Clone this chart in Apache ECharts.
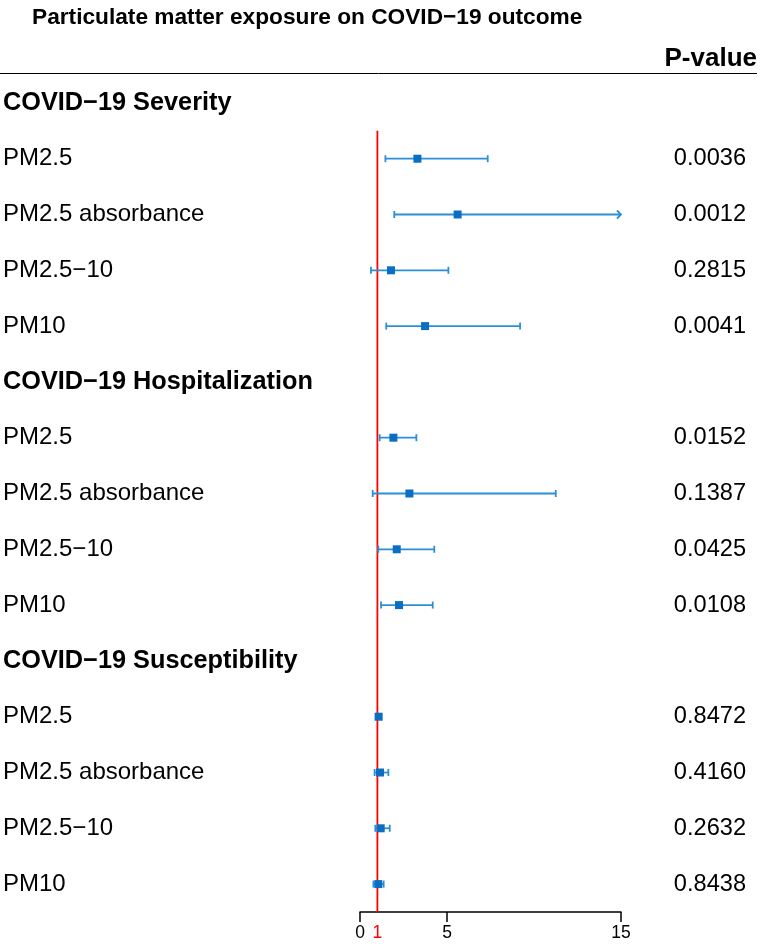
<!DOCTYPE html>
<html>
<head>
<meta charset="utf-8">
<script src="https://cdn.jsdelivr.net/npm/echarts@6/dist/echarts.min.js"></script>
<style>
  html, body { margin: 0; padding: 0; background: #fff; }
  #chart { width: 762px; height: 945px; }
</style>
</head>
<body>
<div id="chart"></div>
<script>
// rows top to bottom, headers are the group titles
const rowLabels = [
  'COVID\u221219 Severity', 'PM2.5', 'PM2.5 absorbance', 'PM2.5\u221210', 'PM10',
  'COVID\u221219 Hospitalization', 'PM2.5', 'PM2.5 absorbance', 'PM2.5\u221210', 'PM10',
  'COVID\u221219 Susceptibility', 'PM2.5', 'PM2.5 absorbance', 'PM2.5\u221210', 'PM10'
]
const headerRows = [0, 5, 10]
const estimates = [null, 3.30, 5.61, 1.78, 3.74, null, 1.92, 2.84, 2.11, 2.24, null, 1.07, 1.15, 1.19, 1.05]
const lowerCI = [null, 1.46, 1.97, 0.63, 1.51, null, 1.13, 0.73, 1.05, 1.21, null, 0.92, 0.84, 0.88, 0.77]
const upperCI = [null, 7.34, 16.5, 5.08, 9.20, null, 3.24, 11.25, 4.27, 4.18, null, 1.22, 1.63, 1.71, 1.36]
const pValues = ['', '0.0036', '0.0012', '0.2815', '0.0041', '', '0.0152', '0.1387', '0.0425', '0.0108', '', '0.8472', '0.4160', '0.2632', '0.8438']
const xTickValues = [0, 5, 15]
const xLabelValues = [0, 1, 5, 15]
const refValue = 1
const xMax = 15

const font = "'Liberation Sans', Arial, Helvetica, sans-serif"
const lineColor = '#2b8fd6'
const boxColor = '#0a6fc2'

const rowIdx = rowLabels.map((_, i) => i)
const ciData = []
rowIdx.forEach(i => {
  if (estimates[i] !== null) ciData.push([i, estimates[i], lowerCI[i], upperCI[i]])
})

const chart = echarts.init(document.getElementById('chart'))

const option = {
  animation: false,
  backgroundColor: '#fff',
  title: [
    {
      text: 'Particulate matter exposure on COVID\u221219 outcome',
      left: 32,
      top: 6,
      padding: 0,
      textStyle: { fontFamily: font, fontSize: 22.7, fontWeight: 'bold', color: '#000' }
    },
    {
      text: 'P-value',
      right: 5,
      top: 46,
      padding: 0,
      textStyle: { fontFamily: font, fontSize: 26, fontWeight: 'bold', color: '#000' }
    }
  ],
  graphic: [
    {
      type: 'line',
      shape: { x1: 0, y1: 73.5, x2: 757, y2: 73.5 },
      style: { stroke: '#000', lineWidth: 1 }
    }
  ],
  grid: { left: 360, right: 141, top: 75, bottom: 33 },
  xAxis: {
    type: 'value',
    min: 0,
    max: xMax,
    splitLine: { show: false },
    axisLine: { onZero: false, lineStyle: { color: '#000', width: 1.5 } },
    axisTick: { customValues: xTickValues, length: 10, lineStyle: { color: '#000', width: 1.5 } },
    axisLabel: {
      customValues: xLabelValues,
      fontFamily: font,
      fontSize: 17.5,
      color: '#000',
      margin: 12,
      formatter: v => v === refValue ? '{r|' + v + '}' : String(v),
      rich: { r: { color: '#ff0000', fontFamily: font, fontSize: 17.5 } }
    }
  },
  yAxis: [
    {
      type: 'value',
      min: -0.5,
      max: rowLabels.length - 0.5,
      inverse: true,
      position: 'left',
      axisLine: { show: false },
      axisTick: { show: false },
      splitLine: { show: false },
      axisLabel: {
        customValues: rowIdx,
        align: 'left',
        margin: 357,
        formatter: v => headerRows.includes(v) ? '{h|' + rowLabels[v] + '}' : '{n|' + rowLabels[v] + '}',
        rich: {
          h: { fontFamily: font, fontSize: 25.3, fontWeight: 'bold', color: '#000' },
          n: { fontFamily: font, fontSize: 24, color: '#000' }
        }
      }
    },
    {
      type: 'value',
      min: -0.5,
      max: rowLabels.length - 0.5,
      inverse: true,
      position: 'right',
      axisLine: { show: false },
      axisTick: { show: false },
      splitLine: { show: false },
      axisLabel: {
        customValues: rowIdx,
        align: 'right',
        margin: 125,
        fontFamily: font,
        fontSize: 23.6,
        color: '#000',
        formatter: v => pValues[v]
      }
    }
  ],
  series: [
    {
      type: 'line',
      z: 1,
      symbol: 'none',
      lineStyle: { color: '#ff0000', width: 1.8 },
      data: [[refValue, 0.5], [refValue, rowLabels.length - 0.5]]
    },
    {
      type: 'custom',
      z: 3,
      data: ciData,
      encode: { x: [1, 2, 3], y: 0 },
      renderItem: (params, api) => {
        const row = api.value(0)
        const est = api.value(1)
        const lo = api.value(2)
        const hi = api.value(3)
        const clipped = hi > xMax
        const pLo = api.coord([lo, row])
        const pHi = api.coord([Math.min(hi, xMax), row])
        const pEst = api.coord([est, row])
        const cap = 3.5
        const box = 4
        const lw = 1.8
        const children = [
          {
            type: 'line',
            shape: { x1: pLo[0], y1: pLo[1], x2: pHi[0], y2: pHi[1] },
            style: { stroke: lineColor, lineWidth: lw }
          },
          {
            type: 'line',
            shape: { x1: pLo[0], y1: pLo[1] - cap, x2: pLo[0], y2: pLo[1] + cap },
            style: { stroke: lineColor, lineWidth: lw }
          }
        ]
        if (clipped) {
          children.push({
            type: 'polyline',
            shape: { points: [[pHi[0] - 4, pHi[1] - 4], [pHi[0], pHi[1]], [pHi[0] - 4, pHi[1] + 4]] },
            style: { stroke: lineColor, lineWidth: lw, fill: null }
          })
        } else {
          children.push({
            type: 'line',
            shape: { x1: pHi[0], y1: pHi[1] - cap, x2: pHi[0], y2: pHi[1] + cap },
            style: { stroke: lineColor, lineWidth: lw }
          })
        }
        children.push({
          type: 'rect',
          shape: { x: pEst[0] - box, y: pEst[1] - box, width: box * 2, height: box * 2 },
          style: { fill: boxColor }
        })
        return { type: 'group', children: children }
      }
    }
  ]
}

chart.setOption(option)
</script>
</body>
</html>
